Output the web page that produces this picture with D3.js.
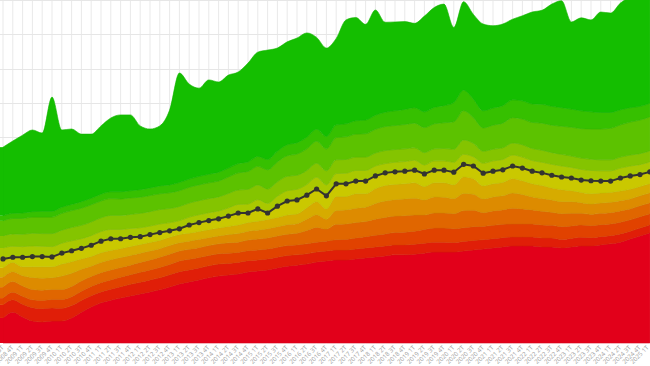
<!DOCTYPE html>
<html><head><meta charset="utf-8">
<script src="https://cdn.jsdelivr.net/npm/d3@7"></script>
<style>html,body{margin:0;padding:0;background:#fff;}svg{display:block;}</style>
</head><body>
<svg id="c" width="650" height="366"></svg>
<script>
const quarters = ["2008 3T","2008 4T","2009 1T","2009 2T","2009 3T","2009 4T","2010 1T","2010 2T","2010 3T","2010 4T","2011 1T","2011 2T","2011 3T","2011 4T","2012 1T","2012 2T","2012 3T","2012 4T","2013 1T","2013 2T","2013 3T","2013 4T","2014 1T","2014 2T","2014 3T","2014 4T","2015 1T","2015 2T","2015 3T","2015 4T","2016 1T","2016 2T","2016 3T","2016 4T","2017 1T","2017 2T","2017 3T","2017 4T","2018 1T","2018 2T","2018 3T","2018 4T","2019 1T","2019 2T","2019 3T","2019 4T","2020 1T","2020 2T","2020 3T","2020 4T","2021 1T","2021 2T","2021 3T","2021 4T","2022 1T","2022 2T","2022 3T","2022 4T","2023 1T","2023 2T","2023 3T","2023 4T","2024 1T","2024 2T","2024 3T","2024 4T","2025 1T"];

const band01 = [7.3,9.0,7.6,6.4,6.1,6.4,6.4,7.3,9.0,10.5,11.7,12.5,13.1,13.7,14.3,14.9,15.5,16.3,17.2,17.8,18.4,19.0,19.5,19.8,20.1,20.7,21.0,21.3,21.9,22.4,22.7,23.0,23.6,23.9,24.2,24.2,24.5,24.8,25.1,25.4,25.7,25.7,25.9,26.2,26.5,26.5,26.5,26.8,27.1,27.4,27.7,28.0,28.3,28.3,28.3,28.0,28.0,27.7,28.0,28.3,28.3,28.6,28.9,29.4,30.3,31.2,32.1];
const band02 = [3.8,3.6,3.7,3.9,3.9,3.8,3.7,3.6,3.4,3.3,3.2,3.2,3.3,3.4,3.4,3.5,3.5,3.6,3.6,3.5,3.5,3.5,3.5,3.4,3.4,3.3,3.2,3.2,3.1,3.1,3.0,3.0,2.9,2.9,2.9,2.9,2.9,2.9,2.9,2.9,2.9,2.9,2.9,2.9,2.9,2.9,2.8,2.8,2.8,2.7,2.7,2.7,2.6,2.6,2.6,2.6,2.6,2.5,2.5,2.5,2.4,2.4,2.4,2.4,2.3,2.3,2.3];
const band03 = [2.0,2.2,2.3,2.3,2.4,2.5,2.6,2.6,2.7,2.7,2.7,2.7,2.8,2.8,2.9,2.9,3.0,3.0,3.1,3.1,3.0,3.0,3.0,3.0,2.9,2.9,2.9,2.9,2.9,2.9,2.9,2.9,2.9,2.9,3.0,3.1,3.2,3.3,3.4,3.5,3.6,3.7,3.8,4.0,4.1,4.1,4.0,4.0,4.0,3.9,3.9,3.9,3.8,3.8,3.8,3.8,3.7,3.7,3.6,3.6,3.5,3.5,3.4,3.4,3.3,3.3,3.2];
const band04 = [3.2,3.1,3.0,3.0,3.0,2.9,2.9,3.0,3.0,2.9,2.9,2.9,2.8,2.8,2.9,2.9,3.0,3.0,2.9,2.9,2.9,2.9,2.9,3.0,3.0,3.1,3.2,3.2,3.3,3.3,3.4,3.9,4.3,3.5,4.5,4.5,4.5,4.4,4.7,4.8,4.8,4.8,4.7,4.2,4.4,4.4,4.4,5.0,4.8,4.0,4.2,4.2,4.6,4.4,4.1,4.0,3.8,3.8,3.7,3.4,3.3,3.3,3.3,3.3,3.2,3.2,3.2];
const band05 = [2.9,2.9,3.0,3.5,3.5,3.4,3.9,3.8,3.4,3.0,3.0,3.0,2.9,2.8,2.7,2.6,2.5,2.5,2.4,2.4,2.4,2.3,2.3,2.4,2.5,2.6,2.6,2.7,2.7,2.8,2.8,3.3,3.7,2.9,4.0,4.1,4.2,4.2,4.6,4.8,4.8,4.9,4.9,4.4,4.7,4.6,4.4,5.0,4.7,4.0,4.1,4.1,4.4,4.2,3.8,3.7,3.6,3.5,3.4,3.1,3.0,3.0,3.0,3.0,2.9,2.9,2.9];
const band06 = [2.7,2.7,2.6,3.1,3.3,3.2,3.5,3.4,3.0,2.8,2.8,2.7,2.6,2.6,2.5,2.5,2.4,2.4,2.4,2.3,2.3,2.3,2.3,2.4,2.5,2.5,2.6,2.7,2.7,2.8,2.8,3.3,3.8,3.0,4.1,3.9,4.2,3.9,4.3,4.5,4.4,4.4,4.5,3.9,4.1,4.2,4.0,4.8,4.5,3.8,3.8,3.9,4.2,4.0,3.8,3.8,3.5,3.5,3.2,3.0,3.0,2.9,2.9,2.8,2.8,2.7,2.7];
const band07 = [2.9,1.8,3.1,3.3,3.3,3.2,3.5,3.5,3.4,3.6,3.7,3.7,3.2,3.0,2.6,2.6,2.6,2.2,2.0,2.7,2.9,3.0,3.0,3.3,3.8,3.1,3.9,2.2,3.6,4.4,4.4,4.0,4.2,4.1,3.9,4.0,4.1,4.2,4.0,3.9,4.0,4.1,4.2,4.0,4.1,4.0,4.2,4.1,3.9,4.0,4.1,4.0,4.2,4.1,4.0,3.9,4.0,4.1,4.0,3.9,4.1,3.8,3.6,4.1,4.2,3.8,3.8];
const band08 = [2.9,2.9,2.8,2.8,2.7,2.7,2.6,2.6,2.5,2.5,2.5,2.4,2.4,2.3,2.3,2.2,2.2,2.1,2.1,2.0,2.0,2.0,2.0,2.1,2.2,2.3,2.4,2.5,2.6,2.7,2.8,2.8,2.9,2.9,2.8,2.8,2.7,2.6,2.6,2.5,2.5,2.4,2.4,2.3,2.3,2.4,2.4,2.5,2.5,2.6,2.6,2.7,2.7,2.8,2.8,2.9,2.9,2.8,2.8,2.8,2.7,2.7,2.7,2.6,2.6,2.6,2.6];
const band09 = [3.5,3.6,3.6,3.7,3.7,3.8,3.8,3.9,3.9,4.0,4.0,4.1,4.1,4.1,4.2,4.2,4.2,4.1,4.1,4.1,4.1,4.1,4.1,4.2,4.2,4.3,4.3,4.2,4.2,4.2,4.1,4.1,4.1,4.1,4.0,4.0,3.9,3.9,3.8,3.8,3.7,3.7,3.6,3.6,3.5,3.6,3.8,4.2,3.9,3.5,3.4,3.4,3.5,3.6,3.5,3.5,3.4,3.4,3.3,3.3,3.3,3.2,3.2,3.2,3.2,3.2,3.2];
const band10 = [4.4,4.5,4.6,4.7,4.8,4.8,4.9,4.9,5.0,5.0,4.9,4.9,4.8,4.8,4.7,4.7,4.6,4.6,4.6,4.6,4.6,4.6,4.6,4.8,5.0,5.2,5.4,5.6,5.8,6.0,6.2,6.3,6.4,6.4,6.5,6.6,6.7,6.8,6.9,7.0,7.0,7.1,7.2,7.3,7.3,7.5,8.0,8.5,7.5,6.8,7.0,7.2,7.4,7.5,7.6,7.9,8.0,8.2,8.4,8.6,8.8,9.0,9.2,9.4,9.6,9.8,9.9];
const band11 = [1.5,1.5,1.6,1.6,1.7,1.7,1.8,1.8,1.9,1.9,2.0,2.0,2.1,2.1,2.2,2.2,2.3,2.3,2.4,2.4,2.5,2.5,2.6,2.6,2.7,2.8,2.9,3.0,3.1,3.2,3.3,3.4,3.5,3.6,3.7,3.8,3.9,4.0,4.1,4.2,4.3,4.4,4.5,4.6,4.8,5.0,5.6,6.0,5.4,5.0,5.0,5.1,5.2,5.3,5.4,5.5,5.5,5.4,5.3,5.2,5.0,4.8,4.6,4.4,4.2,4.0,4.0];
const band12 = [20.0,21.1,22.7,23.8,22.8,33.3,22.5,22.0,19.7,18.7,19.9,21.5,22.4,22.1,18.6,17.2,17.5,21.8,31.9,27.7,25.7,27.5,26.3,27.1,26.7,28.8,30.4,31.9,30.1,30.0,30.5,30.4,26.8,25.8,25.2,30.3,30.1,27.9,30.7,26.2,25.9,25.6,24.6,27.9,29.1,29.6,21.9,25.8,24.7,25.3,24.0,23.8,23.5,24.8,26.8,27.4,29.8,31.2,25.4,27.1,26.8,29.3,29.0,31.1,32.3,33.3,33.0];
const lineValues = [24.5,25.0,25.0,25.2,25.2,25.1,26.2,26.9,27.6,28.5,29.7,30.4,30.4,30.8,31.0,31.6,32.2,32.7,33.3,34.4,35.1,35.7,36.2,37.0,37.9,37.9,39.1,37.9,39.9,41.4,41.7,43.1,44.9,42.9,46.4,46.4,47.2,47.2,48.7,49.6,49.9,50.1,50.4,49.3,50.4,50.4,49.8,52.1,51.6,49.5,50.1,50.5,51.6,51.0,50.1,49.6,48.9,48.4,48.1,47.5,47.3,47.2,47.2,48.1,48.7,49.1,49.9];
const yTicks = [10,20,30,40,50,60,70,80,90,100];

const bandColors = ["#e2001a","#e01e08","#e14200","#e06600","#dd8b00","#d6ab00","#cac800","#a9c800","#84c400","#5cc200","#36c000","#14be00"];

const bands = [band01,band02,band03,band04,band05,band06,band07,band08,band09,band10,band11,band12];
const keys = bands.map((_, i) => "b" + i);
const table = quarters.map((q, j) => {
  const row = {q};
  bands.forEach((b, i) => row[keys[i]] = b[j]);
  return row;
});

const svg = d3.select("#c");
const W = 650, plotBottom = 343;
const x = d3.scalePoint().domain(quarters).range([3, 649.8]);
const y = d3.scaleLinear().domain([0, 100]).range([plotBottom, 0]);

// grid
const grid = svg.append("g");
grid.selectAll("line.v").data(quarters).join("line")
  .attr("x1", d => x(d)).attr("x2", d => x(d))
  .attr("y1", 0).attr("y2", plotBottom)
  .attr("stroke", "#e9e9e9").attr("stroke-width", 1);
grid.selectAll("line.h").data(yTicks).join("line")
  .attr("x1", 0).attr("x2", W)
  .attr("y1", d => Math.round(y(d)) + 0.5).attr("y2", d => Math.round(y(d)) + 0.5)
  .attr("stroke", "#e6e6e6").attr("stroke-width", 1);

// stacked areas
const series = d3.stack().keys(keys)(table);
const area = d3.area()
  .x(d => x(d.data.q))
  .y0(d => y(d[0]))
  .y1(d => y(d[1]))
  .curve(d3.curveMonotoneX);

const areaG = svg.append("g");
areaG.selectAll("path.band").data(series).join("path")
  .attr("class", "band")
  .attr("d", area)
  .attr("fill", (s, i) => bandColors[i])
  .attr("stroke", (s, i) => d3.color(bandColors[i]).darker(0.15))
  .attr("stroke-width", 0.6);

// extend bands to the plot edges
const edge = d3.area().x(d => d.x).y0(d => y(d.y0)).y1(d => y(d.y1));
series.forEach((s, i) => {
  const f = s[0], l = s[s.length - 1];
  areaG.append("path")
    .attr("d", edge([{x: 0, y0: f[0], y1: f[1]}, {x: x(quarters[0]) + 0.5, y0: f[0], y1: f[1]}]))
    .attr("fill", bandColors[i]);
  areaG.append("path")
    .attr("d", edge([{x: x(quarters[quarters.length - 1]) - 0.5, y0: l[0], y1: l[1]}, {x: W, y0: l[0], y1: l[1]}]))
    .attr("fill", bandColors[i]);
});

// line with points
const line = d3.line().x((d, i) => x(quarters[i])).y(d => y(d));
svg.append("path").datum(lineValues)
  .attr("d", line)
  .attr("fill", "none").attr("stroke", "#333330").attr("stroke-width", 2);
svg.append("g").selectAll("circle").data(lineValues).join("circle")
  .attr("cx", (d, i) => x(quarters[i])).attr("cy", d => y(d))
  .attr("r", 2.6).attr("fill", "#333330");

// x labels
svg.append("g").selectAll("text").data(quarters).join("text")
  .attr("transform", d => `translate(${Math.min(x(d), 648)},${plotBottom + 4}) rotate(-45)`)
  .attr("text-anchor", "end")
  .attr("dominant-baseline", "middle")
  .attr("font-family", "Open Sans, Arial, sans-serif")
  .attr("font-size", 6.2)
  .attr("fill", "#a0a0a0")
  .text(d => d);
</script>
</body></html>
